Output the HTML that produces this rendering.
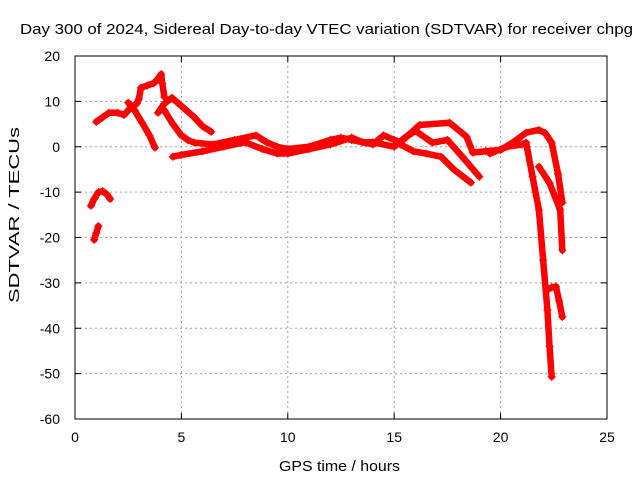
<!DOCTYPE html>
<html><head><meta charset="utf-8"><style>
body{margin:0;background:#fff}
svg{font-family:"Liberation Sans",sans-serif;font-size:14px}
</style></head><body>
<svg id="chart" width="640" height="480" xmlns="http://www.w3.org/2000/svg">
<text x="20" y="34" textLength="613" lengthAdjust="spacingAndGlyphs" style="font-size:15px">Day 300 of 2024, Sidereal Day-to-day VTEC variation (SDTVAR) for receiver chpg</text>
<g id="grid"></g>
<g id="axes"></g>
<g id="series"></g>
<rect x="75" y="56" width="532" height="363" fill="none" stroke="#000" stroke-width="1"/>
<text x="303" y="19" transform="rotate(-90 0 0) translate(-606 0)" style="font-size:15px" textLength="176" lengthAdjust="spacingAndGlyphs">SDTVAR / TECUs</text>
<text x="279" y="471" textLength="121" lengthAdjust="spacingAndGlyphs" style="font-size:15px">GPS time / hours</text>
</svg>
<script>
const xTicks=[0,5,10,15,20,25];
const yTicks=[20,10,0,-10,-20,-30,-40,-50,-60];
const s1x=[0.75,0.9,1.1,1.3,1.5,1.65];
const s1y=[-13,-11.5,-10,-9.8,-10.5,-11.5];
const s2x=[0.9,1.0,1.1];
const s2y=[-20.5,-19,-17.5];
const s3x=[1.0,1.3,1.6,2.0,2.3,2.6,2.9,3.0,3.1,3.4,3.7,3.9,4.05,4.1,4.2];
const s3y=[5.5,6.5,7.5,7.5,7,8.5,9.5,10.5,13,13.5,14,15,16,14,11];
const s4x=[2.5,2.8,3.15,3.5,3.76];
const s4y=[9.7,8,5.3,2.5,-0.2];
const s5x=[3.9,4.2,4.55,5.0,5.6,6.0,6.4];
const s5y=[7.5,9.5,10.8,9,6.5,4.5,3.3];
const s6x=[4.2,4.6,5.0,5.3,5.6,6.5,7.5,8.5,9.0,9.5,10,11,12,12.5,13,14,14.5,15,15.3,16.2,17.6,18.4,18.7,19.3,20,20.6,21.2,21.8,22.1,22.4,22.7,22.9];
const s6y=[8,5,2.5,1.5,0.9,0.5,1.5,2.5,1,0,-0.5,0,1.5,2,1.5,0.5,2.5,1.5,1,4.8,5.3,2.2,-1.3,-1,-0.7,1,3.1,3.7,3,0.9,-6,-12.3];
const s7x=[4.6,5.0,6.0,7.0,8.0,8.8,9.5,10,11,12,13,13.5,14,15,15.5,16,16.8,17.5,18.2,19.0];
const s7y=[-2.2,-1.8,-1,0,1,-0.5,-1.5,-1.5,-0.5,0.5,2,1,1,0,2,3.5,0.9,1.5,-2.2,-6.6];
const s8x=[15.3,15.9,16.5,17.2,17.8,18.6];
const s8y=[0.5,-1,-1.5,-2.2,-5,-7.9];
const s9x=[19.5,20.3,21.0,21.2,21.5,21.8,22.0,22.2,22.3,22.4];
const s9y=[-1.5,0,0.5,0.9,-6.6,-13.9,-25,-36,-44,-50.7];
const s10x=[21.8,22.3,22.8,22.9];
const s10y=[-4.4,-8,-13.9,-22.8];
const s11x=[22.2,22.4,22.6,22.75,22.9];
const s11y=[-31.5,-31,-30.8,-34,-37.5];
const allX=[s1x,s2x,s3x,s4x,s5x,s6x,s7x,s8x,s9x,s10x,s11x];
const allY=[s1y,s2y,s3y,s4y,s5y,s6y,s7y,s8y,s9y,s10y,s11y];
const X0=75,X1=607,Y0=419,Y1=56;
const sx=v=>X0+(v-0)/25*(X1-X0);
const sy=v=>Y0-(v+60)/80*(Y0-Y1);
const NS="http://www.w3.org/2000/svg";
const grid=document.getElementById('grid'),axes=document.getElementById('axes'),ser=document.getElementById('series');
function mk(t,a,p){const e=document.createElementNS(NS,t);for(const k in a)e.setAttribute(k,a[k]);p.appendChild(e);return e;}
xTicks.forEach(t=>{const x=sx(t);
 if(t>0&&t<25){const g=mk('line',{x1:x,x2:x,y1:Y1,y2:Y0,stroke:'#a0a0a0','stroke-dasharray':'2,3'},grid);
 
 }
 mk('line',{x1:x,x2:x,y1:Y0,y2:Y0-6,stroke:'#000'},axes);mk('line',{x1:x,x2:x,y1:Y1,y2:Y1+6,stroke:'#000'},axes);
 const l=mk('text',{x:x,y:Y0+23,'text-anchor':'middle'},axes);l.textContent=t;
 
 });
yTicks.forEach(t=>{const y=sy(t);
 if(t>-60&&t<20){const g=mk('line',{x1:X0,x2:X1,y1:y,y2:y,stroke:'#a0a0a0','stroke-dasharray':'2,3'},grid);
 
 }
 mk('line',{x1:X0,x2:X0+6,y1:y,y2:y,stroke:'#000'},axes);mk('line',{x1:X1,x2:X1-6,y1:y,y2:y,stroke:'#000'},axes);
 const l=mk('text',{x:X0-15,y:y+5,'text-anchor':'end'},axes);l.textContent=t;
 
 });
allX.forEach((xs,i)=>{const ys=allY[i];
 const pts=xs.map((v,j)=>sx(v)+','+sy(ys[j])).join(' ');
 const pl=mk('polyline',{points:pts,fill:'none',stroke:'#ff0000','stroke-width':6.5,'stroke-linejoin':'round','stroke-linecap':'round'},ser);
 
 
 xs.forEach((v,j)=>{const x=sx(v),y=sy(ys[j]);
  const m=mk('path',{d:`M${x-4},${y}h8M${x},${y-4}v8`,stroke:'#ff0000','stroke-width':1.2},ser);
  
  });});
</script>
</body></html>
